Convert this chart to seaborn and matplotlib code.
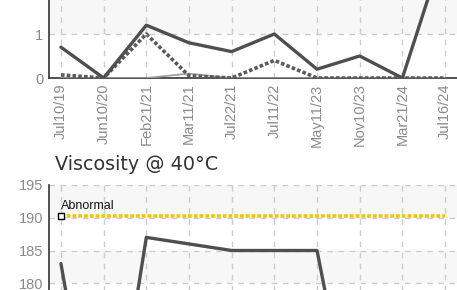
import numpy as np
import pandas as pd
import matplotlib
matplotlib.use("Agg")
import matplotlib.pyplot as plt
import seaborn as sns

# --- Data ---
DATES = ["Jul10/19", "Jun10/20", "Feb21/21", "Mar11/21", "Jul22/21",
         "Jul11/22", "May11/23", "Nov10/23", "Mar21/24", "Jul16/24"]

TOP_MAIN = [0.7, 0.0, 1.2, 0.8, 0.6, 1.0, 0.2, 0.5, 0.0, 3.0]
TOP_DOTTED = [0.07, 0.0, 1.0, 0.05, 0.0, 0.4, 0.0, 0.0, 0.0, 0.0]
TOP_THIN = [0.0, 0.0, 0.0, 0.1, 0.0, 0.0, 0.0, 0.0, 0.0, 0.0]

VISC = [183, 146, 187, 186, 185, 185, 185, 152, 150, 150]
ABNORMAL = 190.3
VISC_TITLE = "Viscosity @ 40°C"

# --- Style ---
sns.set_theme(style="white")
plt.rcParams["font.family"] = ["DejaVu Sans"]
TICK_FONT = ["Liberation Sans", "DejaVu Sans"]
LINE_COL = "#4f4f4f"
BAND_COL = "#f7f7f7"
GRID_COL = "#cccccc"
TICK_COL = "#8a8a8a"

W, H = 457, 290
fig = plt.figure(figsize=(W / 100, H / 100), dpi=100)


def px_axes(left, top, right, bottom):
    return fig.add_axes([left / W, 1 - bottom / H, (right - left) / W, (bottom - top) / H])


def style_axes(ax, yticks):
    ax.set_xlim(-0.28, len(DATES) - 1 + 0.28)
    for sp in ["top", "right"]:
        ax.spines[sp].set_visible(False)
    ax.spines["left"].set_color("#333333")
    ax.spines["left"].set_linewidth(1.2)
    ax.spines["bottom"].set_color("#333333")
    ax.spines["bottom"].set_linewidth(1.2)
    ax.set_yticks(yticks)
    ax.set_xticks(range(len(DATES)))
    ax.tick_params(axis="both", direction="inout", length=6, width=1.2, color="#333333",
                   labelcolor=TICK_COL, labelsize=10.5, pad=1)
    for lab in ax.get_yticklabels() + ax.get_xticklabels():
        lab.set_family(TICK_FONT)
    # alternating bands
    for i in range(len(yticks) - 1):
        if i % 2 == 1:
            ax.axhspan(yticks[i], yticks[i + 1], color=BAND_COL, zorder=0, lw=0)
    for y in yticks[1:]:
        ax.axhline(y, color=GRID_COL, lw=1, ls=(0, (4, 4)), zorder=1)
    for x in range(len(DATES)):
        ax.axvline(x, color=GRID_COL, lw=1, ls=(0, (4, 4)), zorder=1)
    ax.set_xlabel("")
    ax.set_ylabel("")


# --- Top chart (cut off at the top) ---
ax1 = px_axes(49, 78 - 3.5 * 44, 457, 78)
top_df = pd.DataFrame({"date": DATES, "main": TOP_MAIN, "dotted": TOP_DOTTED, "thin": TOP_THIN})
sns.lineplot(data=top_df, x="date", y="thin", ax=ax1, color="#9a9a9a", lw=1.2, zorder=3)
sns.lineplot(data=top_df, x="date", y="dotted", ax=ax1, color="#5a5a5a", lw=2.6,
             ls=(0, (1, 0.6)), zorder=4)
sns.lineplot(data=top_df, x="date", y="main", ax=ax1, color=LINE_COL, lw=2.4, zorder=5)
ax1.set_ylim(0, 3.5)
style_axes(ax1, [0, 1, 2, 3])
ax1.set_xticklabels(DATES, rotation=90)
for lab in ax1.get_xticklabels():
    lab.set_family(TICK_FONT)
ax1.tick_params(axis="x", pad=1)

# --- Bottom chart (cut off at the bottom) ---
ax2 = px_axes(49, 185, 457, 185 + 50 * 6.55)
visc_df = pd.DataFrame({"date": DATES, "visc": VISC, "abn": [ABNORMAL] * len(DATES)})
sns.lineplot(data=visc_df, x="date", y="abn", ax=ax2, color="#f5c400", lw=2.6,
             ls=(0, (1, 0.6)), zorder=4)
sns.scatterplot(data=visc_df.iloc[:1], x="date", y="abn", ax=ax2, marker="s", s=22,
                facecolor="white", edgecolor="black", linewidth=1, zorder=6)
sns.lineplot(data=visc_df, x="date", y="visc", ax=ax2, color=LINE_COL, lw=2.4, zorder=5)
ax2.text(0.0, ABNORMAL + 0.6, "Abnormal", fontsize=9, color="#111111", ha="left",
         va="bottom", family=TICK_FONT, zorder=7)
ax2.set_ylim(145, 195)
style_axes(ax2, list(range(145, 196, 5)))
ax2.set_xticklabels([])

fig.text(55 / W, 1 - 170 / H, VISC_TITLE, fontsize=13.8, color="#333333", ha="left",
         va="baseline")

fig.savefig("out.png", dpi=100)
